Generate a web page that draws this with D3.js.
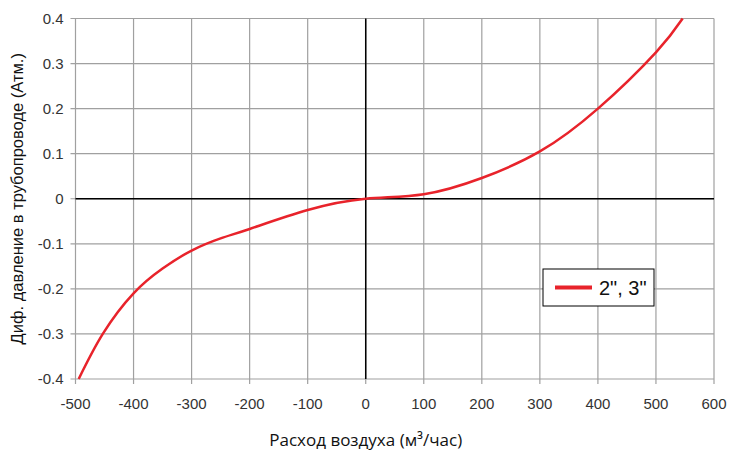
<!DOCTYPE html>
<html>
<head>
<meta charset="utf-8">
<script src="https://cdn.jsdelivr.net/npm/d3@7"></script>
<style>
  body { margin: 0; background: #fff; }
</style>
</head>
<body>
<svg id="chart"></svg>
<script>
// curve points
var flow = [-494.5, -453, -400, -350, -300, -250, -200, -100, 0, 100, 200, 300, 400, 500, 546];
var pressure = [-0.4, -0.3, -0.21, -0.155, -0.115, -0.088, -0.067, -0.025, 0, 0.01, 0.046, 0.105, 0.2, 0.325, 0.4];
var x_ticks = [-500, -400, -300, -200, -100, 0, 100, 200, 300, 400, 500, 600];
var y_ticks = [-0.4, -0.3, -0.2, -0.1, 0, 0.1, 0.2, 0.3, 0.4];
var series_name = '2", 3"';

var width = 730, height = 450;
var margin = {left: 75.5, right: 16, top: 18.5, bottom: 71};
var color_grid = '#a0a0a0';
var color_line = '#e8232b';

var svg = d3.select('#chart')
    .attr('width', width)
    .attr('height', height);

var x = d3.scaleLinear()
    .domain([-500, 600])
    .range([margin.left, width - margin.right]);
var y = d3.scaleLinear()
    .domain([-0.4, 0.4])
    .range([height - margin.bottom, margin.top]);

// grid
svg.append('g').selectAll('line')
    .data(x_ticks)
    .join('line')
    .attr('x1', d => x(d)).attr('x2', d => x(d))
    .attr('y1', y(0.4)).attr('y2', y(-0.4) + 5)
    .attr('stroke', color_grid)
    .attr('stroke-width', 1.2);
svg.append('g').selectAll('line')
    .data(y_ticks)
    .join('line')
    .attr('x1', x(-500) - 5).attr('x2', x(600))
    .attr('y1', d => y(d)).attr('y2', d => y(d))
    .attr('stroke', color_grid)
    .attr('stroke-width', 1.2);

// zero lines
svg.append('line')
    .attr('x1', x(-500)).attr('x2', x(600))
    .attr('y1', y(0)).attr('y2', y(0))
    .attr('stroke', '#000').attr('stroke-width', 1.5);
svg.append('line')
    .attr('x1', x(0)).attr('x2', x(0))
    .attr('y1', y(0.4)).attr('y2', y(-0.4))
    .attr('stroke', '#000').attr('stroke-width', 1.5);

// tick labels
svg.append('g').selectAll('text')
    .data(x_ticks)
    .join('text')
    .attr('x', d => x(d))
    .attr('y', y(-0.4) + 30)
    .attr('text-anchor', 'middle')
    .attr('font-family', 'Liberation Sans, Arial, sans-serif')
    .attr('font-size', 15)
    .attr('fill', '#333')
    .text(d => d);
svg.append('g').selectAll('text')
    .data(y_ticks)
    .join('text')
    .attr('x', x(-500) - 12)
    .attr('y', d => y(d) + 5)
    .attr('text-anchor', 'end')
    .attr('font-family', 'Liberation Sans, Arial, sans-serif')
    .attr('font-size', 15)
    .attr('fill', '#333')
    .text(d => d === 0 ? '0' : d.toFixed(1));

// axis titles
svg.append('text')
    .attr('x', x(0))
    .attr('y', 446)
    .attr('text-anchor', 'middle')
    .attr('font-family', 'Open Sans, sans-serif')
    .attr('font-size', 17)
    .attr('fill', '#111')
    .text('Расход воздуха (м³/час)');
svg.append('text')
    .attr('transform', 'translate(23,' + y(0) + ') rotate(-90)')
    .attr('text-anchor', 'middle')
    .attr('font-family', 'Liberation Sans, Arial, sans-serif')
    .attr('font-size', 16.5)
    .attr('fill', '#111')
    .text('Диф. давление в трубопроводе (Атм.)');

// curve
var pts = flow.map((d, i) => [d, pressure[i]]);
var line = d3.line()
    .x(d => x(d[0]))
    .y(d => y(d[1]))
    .curve(d3.curveNatural);
svg.append('path')
    .datum(pts)
    .attr('d', line)
    .attr('fill', 'none')
    .attr('stroke', color_line)
    .attr('stroke-width', 2.5);

// legend
var lg = svg.append('g').attr('transform', 'translate(543,269)');
lg.append('rect')
    .attr('width', 111).attr('height', 37)
    .attr('fill', '#fff')
    .attr('stroke', '#000').attr('stroke-width', 1);
lg.append('line')
    .attr('x1', 12).attr('x2', 49)
    .attr('y1', 18.5).attr('y2', 18.5)
    .attr('stroke', color_line).attr('stroke-width', 4);
lg.append('text')
    .attr('x', 56).attr('y', 26)
    .attr('font-family', 'Liberation Sans, Arial, sans-serif')
    .attr('font-size', 20)
    .attr('fill', '#111')
    .text(series_name);
</script>
</body>
</html>
